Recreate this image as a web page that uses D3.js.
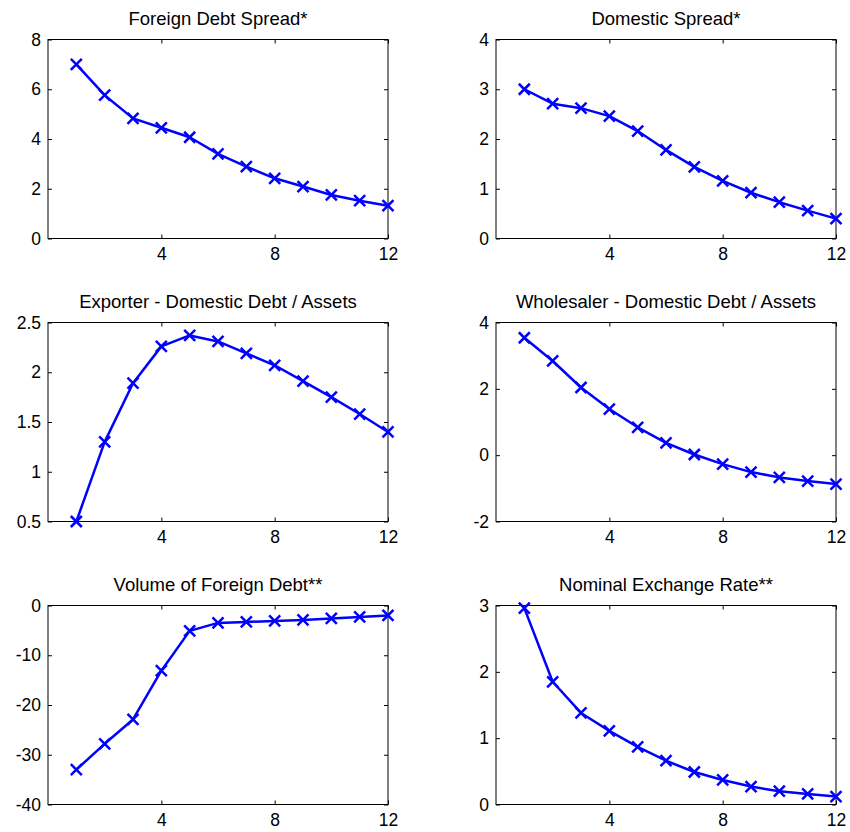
<!DOCTYPE html>
<html>
<head>
<meta charset="utf-8">
<script src="https://cdn.jsdelivr.net/npm/d3@7"></script>
<style>
  body { margin: 0; background: #fff; }
  svg { display: block; }
  text { font-family: "Liberation Sans", Arial, sans-serif; }
</style>
</head>
<body>
<svg id="chart" width="850" height="832"></svg>
<script>
let svg = d3.select("#chart");

//! DATA
let periods = [1, 2, 3, 4, 5, 6, 7, 8, 9, 10, 11, 12];
let xTicks = [4, 8, 12];

let titles = [
    "Foreign Debt Spread*",
    "Domestic Spread*",
    "Exporter - Domestic Debt / Assets",
    "Wholesaler - Domestic Debt / Assets",
    "Volume of Foreign Debt**",
    "Nominal Exchange Rate**"
];

let foreignSpread = [7.0, 5.76, 4.83, 4.45, 4.07, 3.40, 2.89, 2.42, 2.09, 1.75, 1.52, 1.32];
let domesticSpread = [3.0, 2.71, 2.62, 2.46, 2.16, 1.78, 1.44, 1.16, 0.92, 0.73, 0.56, 0.40];
let exporterDebt = [0.5, 1.30, 1.89, 2.26, 2.37, 2.31, 2.19, 2.07, 1.91, 1.75, 1.58, 1.40];
let wholesalerDebt = [3.54, 2.84, 2.04, 1.39, 0.84, 0.37, 0.02, -0.27, -0.51, -0.67, -0.78, -0.87];
let foreignVolume = [-33, -27.8, -22.9, -13.1, -5.1, -3.5, -3.3, -3.1, -2.9, -2.6, -2.3, -2.0];
let exchangeRate = [2.96, 1.85, 1.38, 1.11, 0.87, 0.66, 0.49, 0.37, 0.27, 0.20, 0.16, 0.12];

let series = [foreignSpread, domesticSpread, exporterDebt, wholesalerDebt, foreignVolume, exchangeRate];

let yDomains = [[0, 8], [0, 4], [0.5, 2.5], [-2, 4], [-40, 0], [0, 3]];
let yTicks = [
    [0, 2, 4, 6, 8],
    [0, 1, 2, 3, 4],
    [0.5, 1, 1.5, 2, 2.5],
    [-2, 0, 2, 4],
    [-40, -30, -20, -10, 0],
    [0, 1, 2, 3]
];

//? Layout
let colLeft = [48, 496];
let rowTop = [39.5, 322.5, 605.5];
let plotW = 340;
let plotH = 199;
let blue = "#0000ff";

// plain hyphen for negatives, like the original
let plain = function (d) { return String(d); };

series.forEach(function (values, i) {
    let left = colLeft[i % 2];
    let top = rowTop[Math.floor(i / 2)];

    let x = d3.scaleLinear().domain([0, 12]).range([0, plotW]);
    let y = d3.scaleLinear().domain(yDomains[i]).range([plotH, 0]);

    let g = svg.append("g").attr("transform", "translate(" + left + "," + top + ")");

    // axes with inward ticks on all four sides
    g.append("g")
        .call(d3.axisLeft(y).tickValues(yTicks[i]).tickSizeInner(-4).tickSizeOuter(0).tickPadding(7)
            .tickFormat(plain));
    g.append("g")
        .attr("transform", "translate(" + plotW + ",0)")
        .call(d3.axisRight(y).tickValues(yTicks[i]).tickSizeInner(-4).tickSizeOuter(0).tickFormat(""));
    g.append("g")
        .attr("transform", "translate(0," + plotH + ")")
        .call(d3.axisBottom(x).tickValues(xTicks).tickSizeInner(-4).tickSizeOuter(0).tickPadding(9)
            .tickFormat(plain));
    g.append("g")
        .call(d3.axisTop(x).tickValues(xTicks).tickSizeInner(-4).tickSizeOuter(0).tickFormat(""));

    g.selectAll(".domain").remove();
    g.selectAll(".tick line").attr("stroke", "#000");
    g.selectAll(".tick text")
        .attr("fill", "#000")
        .style("font-size", "17.5px");

    g.append("rect")
        .attr("width", plotW)
        .attr("height", plotH)
        .attr("fill", "none")
        .attr("stroke", "#000")
        .attr("stroke-width", 1);

    // title
    g.append("text")
        .attr("x", plotW / 2)
        .attr("y", -15)
        .attr("text-anchor", "middle")
        .style("font-size", "18.5px")
        .attr("fill", "#000")
        .text(titles[i]);

    // line
    let line = d3.line()
        .x(function (d, j) { return x(periods[j]); })
        .y(function (d) { return y(d); });

    g.append("path")
        .datum(values)
        .attr("d", line)
        .attr("fill", "none")
        .attr("stroke", blue)
        .attr("stroke-width", 2.5)
        .attr("stroke-linejoin", "round");

    // x markers
    let s = 5.5;
    g.selectAll(".marker")
        .data(values)
        .enter()
        .append("path")
        .attr("class", "marker")
        .attr("d", function (d, j) {
            let cx = x(periods[j]), cy = y(d);
            return "M" + (cx - s) + "," + (cy - s) + "L" + (cx + s) + "," + (cy + s) +
                "M" + (cx - s) + "," + (cy + s) + "L" + (cx + s) + "," + (cy - s);
        })
        .attr("stroke", blue)
        .attr("stroke-width", 2.5)
        .attr("fill", "none");
});
</script>
</body>
</html>
